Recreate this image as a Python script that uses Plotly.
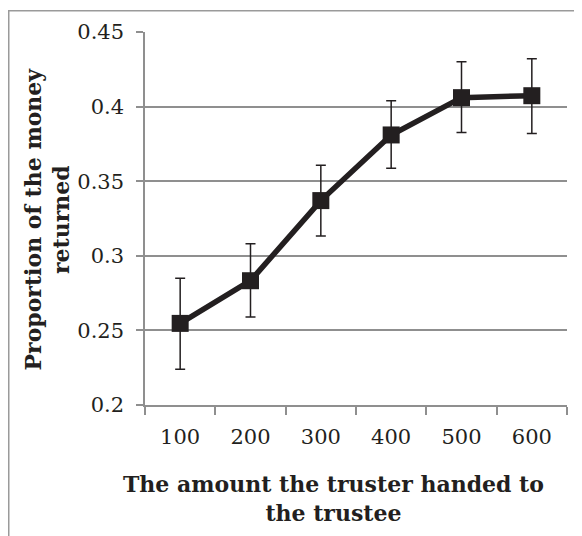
import plotly.graph_objects as go

categories = ["100", "200", "300", "400", "500", "600"]
proportion = [0.2547, 0.2833, 0.337, 0.381, 0.406, 0.4073]
err_plus = [0.0303, 0.0247, 0.0237, 0.023, 0.024, 0.0247]
err_minus = [0.0307, 0.0243, 0.0237, 0.0223, 0.0233, 0.0253]
y_ticks = [0.2, 0.25, 0.3, 0.35, 0.4, 0.45]
y_tick_labels = ["0.2", "0.25", "0.3", "0.35", "0.4", "0.45"]

FONT = "DejaVu Serif, Liberation Serif, serif"
INK = "#231f20"
GRID = "#8f8f8f"

FW, FH = 574, 528
L, R, T, B = 137, 559, 22, 397
W, H = R - L, B - T

fig = go.Figure()
fig.add_trace(go.Scatter(
    x=categories, y=proportion, mode="lines+markers",
    line=dict(color=INK, width=5.5),
    marker=dict(symbol="square", size=17, color=INK),
    error_y=dict(type="data", symmetric=False, array=err_plus, arrayminus=err_minus,
                 color=INK, thickness=1.5, width=5),
    showlegend=False,
))

fig.update_layout(
    width=FW, height=FH,
    margin=dict(l=L, r=FW - R, t=T, b=FH - B),
    paper_bgcolor="white", plot_bgcolor="white",
    font=dict(family=FONT, color=INK, size=17),
    xaxis=dict(type="category", tickson="boundaries", ticks="outside", ticklen=8,
               tickcolor=GRID, tickwidth=1.5, showline=True, linecolor=GRID, linewidth=1.5,
               showgrid=False, tickfont=dict(size=21, family=FONT, color=INK),
               ticklabelstandoff=12, range=[-0.5, 5.5]),
    yaxis=dict(range=[0.2, 0.45], tickvals=y_ticks, ticktext=y_tick_labels,
               ticks="outside", ticklen=7, tickcolor=GRID, tickwidth=1.5,
               showline=True, linecolor=GRID, linewidth=1.5,
               showgrid=True, gridcolor=GRID, gridwidth=1.5, zeroline=False,
               ticklabelstandoff=8,
               tickfont=dict(size=21, family=FONT, color=INK)),
    shapes=[dict(type="rect", xref="paper", yref="paper",
                 x0=(0.75 - L) / W, x1=(FW + 20 - L) / W,
                 y0=(B - FH - 20) / H, y1=(B - 0.75) / H,
                 line=dict(color="#9a9a9a", width=1.5))],
    annotations=[
        dict(text="<b>The amount the truster handed to<br>the trustee</b>",
             xref="paper", yref="paper", x=(325 - L) / W, y=(B - 491) / H,
             showarrow=False, font=dict(size=22, family=FONT, color=INK),
             xanchor="center", yanchor="middle"),
        dict(text="<b>Proportion of the money<br>returned</b>",
             xref="paper", yref="paper", x=(39.5 - L) / W, y=(B - 210) / H,
             showarrow=False, textangle=-90, font=dict(size=22, family=FONT, color=INK),
             xanchor="center", yanchor="middle"),
    ],
)

fig.write_html("out.html")
